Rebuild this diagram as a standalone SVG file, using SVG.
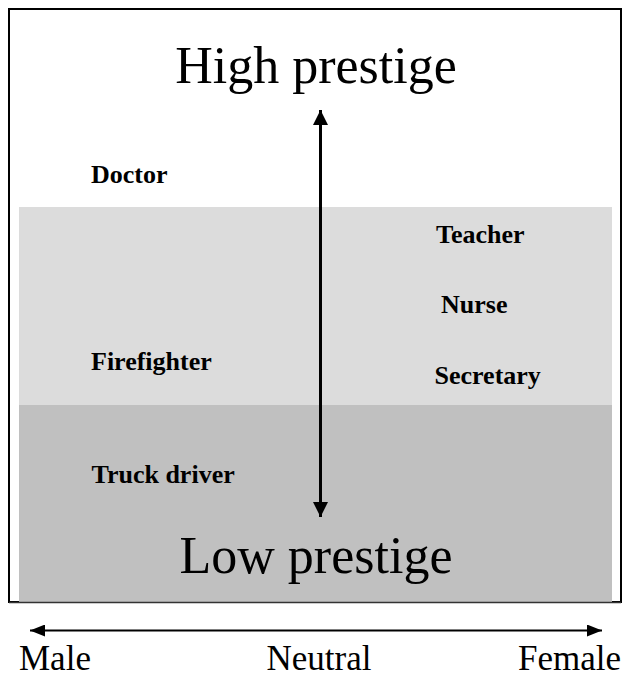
<svg xmlns="http://www.w3.org/2000/svg" width="624" height="678" viewBox="0 0 624 678">
  <style>
    .big { font-family: "Liberation Serif", "Times New Roman", serif; font-size: 52px; fill: #000; }
    .axis { font-family: "Liberation Serif", "Times New Roman", serif; font-size: 35px; fill: #000; }
    .job { font-family: "Liberation Serif", "Times New Roman", serif; font-size: 26px; font-weight: bold; fill: #000; }
    .line { stroke: #000; fill: none; }
  </style>
  <defs>
    <marker id="headV" viewBox="0 0 10 10" refX="10" refY="5" markerWidth="5" markerHeight="5" markerUnits="strokeWidth" orient="auto-start-reverse">
      <path d="M0,0 L10,5 L0,10 Z" fill="#000"/>
    </marker>
    <marker id="headH" viewBox="0 0 10 8" refX="10" refY="4" markerWidth="7.5" markerHeight="6" markerUnits="strokeWidth" orient="auto-start-reverse">
      <path d="M0,0 L10,4 L0,8 Z" fill="#000"/>
    </marker>
  </defs>
  <rect width="624" height="678" fill="#fff"/>
  <g id="frame">
    <rect x="9" y="9" width="612" height="593" fill="#fff" stroke="#000" stroke-width="2"/>
  </g>
  <g id="band-mid">
    <rect x="19" y="207" width="593" height="198" fill="#dcdcdc"/>
  </g>
  <g id="band-low">
    <rect x="19" y="405" width="593" height="197" fill="#c0c0c0"/>
    <line x1="9" y1="602.5" x2="621" y2="602.5" stroke="#333" stroke-width="1.5"/>
  </g>
  <g id="connectors">
    <line class="line" x1="320.5" y1="110" x2="320.5" y2="517" stroke-width="3" marker-start="url(#headV)" marker-end="url(#headV)"/>
    <line class="line" x1="30" y1="630.5" x2="602" y2="630.5" stroke-width="2" marker-start="url(#headH)" marker-end="url(#headH)"/>
  </g>
  <g id="high-prestige"><text class="big" x="316" y="83" text-anchor="middle">High prestige</text></g>
  <g id="low-prestige"><text class="big" x="316" y="573" text-anchor="middle" font-size="53">Low prestige</text></g>
  <g id="doctor"><text class="job" x="91" y="183" font-size="23.5">Doctor</text></g>
  <g id="teacher"><text class="job" x="436" y="243">Teacher</text></g>
  <g id="nurse"><text class="job" x="441" y="313">Nurse</text></g>
  <g id="firefighter"><text class="job" x="91" y="370">Firefighter</text></g>
  <g id="secretary"><text class="job" x="434.5" y="384">Secretary</text></g>
  <g id="truck-driver"><text class="job" x="91.5" y="483">Truck driver</text></g>
  <g id="male"><text class="axis" x="19" y="670">Male</text></g>
  <g id="neutral"><text class="axis" x="319" y="670" text-anchor="middle">Neutral</text></g>
  <g id="female"><text class="axis" x="621" y="670" text-anchor="end">Female</text></g>
</svg>
